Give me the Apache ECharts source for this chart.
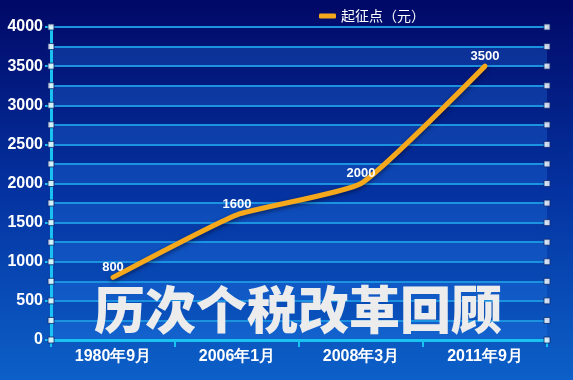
<!DOCTYPE html>
<html><head><meta charset="utf-8">
<script src="https://cdn.jsdelivr.net/npm/echarts@6/dist/echarts.min.js"></script>
<style>html,body{margin:0;padding:0;}#c{width:573px;height:380px;}</style>
</head><body><div id="c"></div>
<script>
var categories = ['1980年9月', '2006年1月', '2008年3月', '2011年9月'];
var thresholdValues = [800, 1600, 2000, 3500];
var seriesName = '起征点（元）';
var titleText = '历次个税改革回顾';
var minorTicks = [0,250,500,750,1000,1250,1500,1750,2000,2250,2500,2750,3000,3250,3500,3750,4000];

var chart = echarts.init(document.getElementById('c'));
var squares = [];
minorTicks.forEach(function(v){ squares.push([0, v]); squares.push([1, v]); });
var font = '"Liberation Sans", Arial, sans-serif';
chart.setOption({
  backgroundColor: {type:'linear', x:0, y:0, x2:0, y2:1, colorStops:[
    {offset:0, color:'#010866'}, {offset:0.5, color:'#0432a0'}, {offset:1, color:'#0c60c8'}]},
  animation: false,
  legend: {
    data: [{name: seriesName, icon: 'roundRect'}],
    left: 314, top: 4, itemWidth: 17, itemHeight: 5, itemGap: 9,
    textStyle: {color:'#ffffff', fontSize: 14, fontFamily: '"Noto Sans CJK SC", sans-serif'}
  },
  graphic: [{
    type: 'text', left: 94, top: 284, z: 100,
    style: {text: titleText, fill: '#ececec', font: '900 51px "Noto Sans CJK SC", sans-serif',
      shadowColor: 'rgba(0,0,0,0.55)', shadowBlur: 3, shadowOffsetX: 2, shadowOffsetY: 2}
  }],
  grid: {left: 51, right: 26, top: 27, bottom: 40},
  xAxis: [{
    type: 'category', data: categories, boundaryGap: true,
    axisLine: {lineStyle: {color: '#19c2f0', width: 3}},
    axisTick: {show: true, length: 7, inside: false, lineStyle: {color: '#19c2f0', width: 2}},
    axisLabel: {color: '#ffffff', fontSize: 16, fontWeight: 'bold', fontFamily: font, margin: 9},
    splitLine: {show: false}
  }, {
    type: 'value', min: 0, max: 1, show: false
  }],
  yAxis: [{
    type: 'value', min: 0, max: 4000, interval: 500,
    axisLine: {show: true, lineStyle: {color: '#19c2f0', width: 3}},
    axisTick: {show: true, length: 6, lineStyle: {color: '#19c2f0', width: 2}},
    axisLabel: {color: '#ffffff', fontSize: 16, fontWeight: 'bold', fontFamily: font, margin: 8,
      formatter: function(v){ return String(v); }},
    splitLine: {show: false}
  }, {
    type: 'value', min: 0, max: 4000, interval: 250, position: 'left',
    axisLine: {show: false}, axisTick: {show: false}, axisLabel: {show: false},
    splitLine: {show: true, lineStyle: {color: '#1b93e0', width: 2}},
    splitArea: {show: true, areaStyle: {color: ['rgba(40,130,240,0.28)', 'rgba(0,0,0,0)']}}
  }],
  series: [{
    name: seriesName, type: 'line', data: thresholdValues, smooth: 0.15,
    symbol: 'circle', symbolSize: 1, z: 10,
    lineStyle: {color: '#f5a81c', width: 5, cap: 'round',
      shadowColor: 'rgba(0,0,20,0.5)', shadowBlur: 4, shadowOffsetY: 2},
    itemStyle: {color: '#f5a81c'},
    label: {show: true, position: 'top', distance: 3, color: '#ffffff', fontSize: 13, fontWeight: 'bold', fontFamily: font}
  }, {
    type: 'scatter', xAxisIndex: 1, yAxisIndex: 1, data: squares, symbol: 'rect', symbolSize: 6,
    itemStyle: {color: '#ffffff', borderColor: '#0a2a70', borderWidth: 1}, z: 20, silent: true
  }]
});
</script></body></html>
